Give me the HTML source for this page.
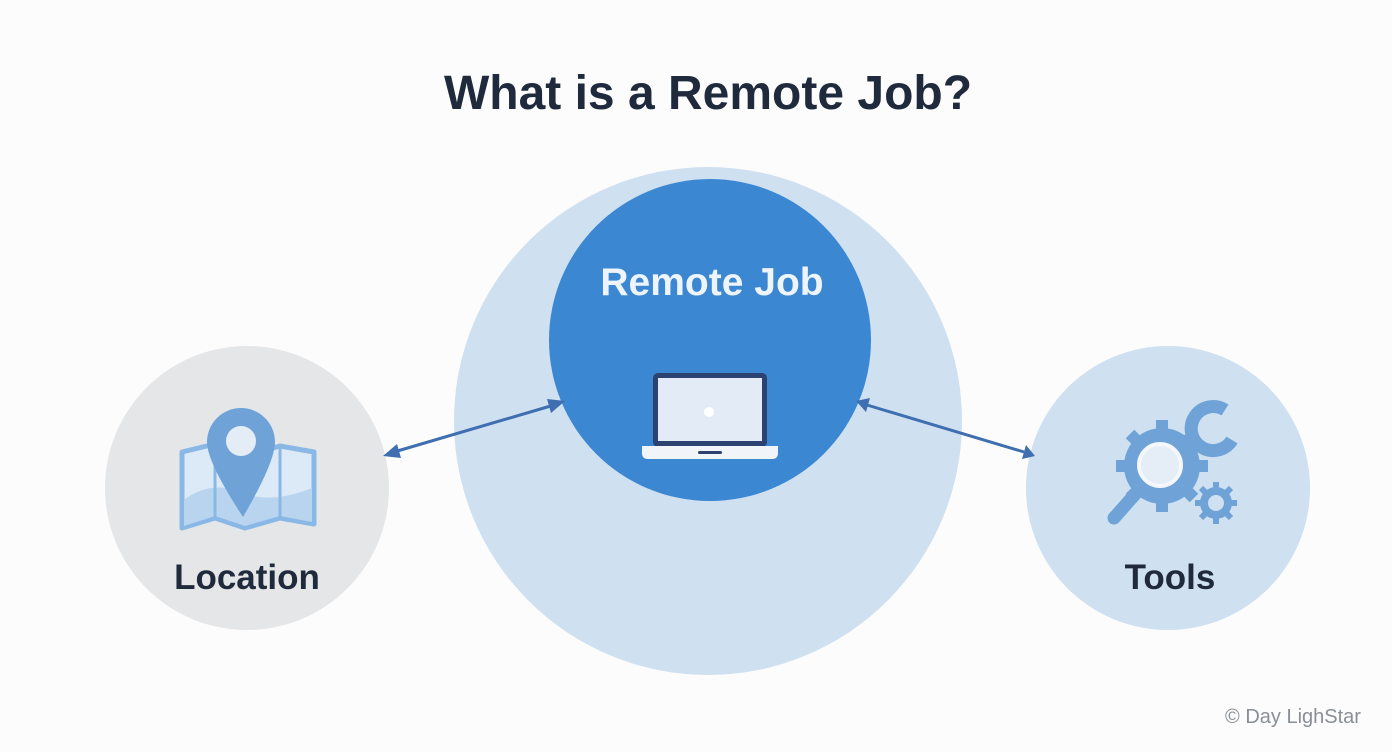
<!DOCTYPE html>
<html><head><meta charset="utf-8"><style>
html,body{margin:0;padding:0;background:#fcfcfc;}
svg{display:block;}
text{font-family:"Liberation Sans",sans-serif;}
</style></head><body>
<svg width="1392" height="752" viewBox="0 0 1392 752" xmlns="http://www.w3.org/2000/svg">
<rect width="1392" height="752" fill="#fcfcfc"/>
<text x="708" y="109" text-anchor="middle" font-size="48" font-weight="bold" fill="#1f2b3d">What is a Remote Job?</text>
<circle cx="708" cy="421" r="254" fill="#cfe0f1"/>
<circle cx="710" cy="340" r="161" fill="#3b87d1"/>
<text x="712" y="295" text-anchor="middle" font-size="39" font-weight="bold" fill="#eef4fb">Remote Job</text>
<!-- laptop -->
<rect x="653" y="373" width="114" height="74" rx="5" fill="#2c4270"/>
<rect x="658" y="378" width="104" height="63" fill="#e3ecf6"/>
<circle cx="709" cy="412" r="5" fill="#fff"/>
<path d="M642 446 H778 V453 Q778 459 772 459 H648 Q642 459 642 453 Z" fill="#f1f5fa"/>
<rect x="698" y="451" width="24" height="3" rx="1.5" fill="#2c4270"/>
<!-- left -->
<circle cx="247" cy="488" r="142" fill="#e4e6e8"/>
<path d="M182 452 L215 444 L245 456 L280 446 L314 452 L314 524 L280 518 L245 528 L215 518 L182 528 Z" fill="#dce9f6" stroke="#8ab8e6" stroke-width="5" stroke-linejoin="round"/>
<path d="M184 500 Q210 480 240 492 Q270 505 312 488 L312 522 L280 516 L245 526 L215 516 L184 526 Z" fill="#b8d4ef"/>
<path d="M215 444 V518 M280 446 V518" stroke="#8ab8e6" stroke-width="3"/>
<path d="M241 408 A34 34 0 0 1 275 442 Q275 462 243 517 Q207 462 207 442 A34 34 0 0 1 241 408 Z" fill="#6fa3d8"/>
<circle cx="241" cy="441" r="15" fill="#e4ecf5"/>
<text x="247" y="589" text-anchor="middle" font-size="35" font-weight="bold" fill="#1f2b3d">Location</text>
<!-- right -->
<circle cx="1168" cy="488" r="142" fill="#cfe0f1"/>
<g fill="#6fa3d8">
<circle cx="1162" cy="466" r="38"/>
<g stroke="#6fa3d8" stroke-width="12">
<line x1="1162" y1="420" x2="1162" y2="512"/><line x1="1116" y1="466" x2="1208" y2="466"/>
<line x1="1130" y1="434" x2="1194" y2="498"/><line x1="1194" y1="434" x2="1130" y2="498"/>
</g>
<circle cx="1216" cy="503" r="16"/>
<g stroke="#6fa3d8" stroke-width="6">
<line x1="1216" y1="482" x2="1216" y2="524"/><line x1="1195" y1="503" x2="1237" y2="503"/>
<line x1="1201" y1="488" x2="1231" y2="518"/><line x1="1231" y1="488" x2="1201" y2="518"/>
</g>
</g>
<circle cx="1216" cy="503" r="8" fill="#cfe0f1"/>
<path d="M1225 410 A22 22 0 1 0 1232 440" fill="none" stroke="#6fa3d8" stroke-width="13"/>
<line x1="1146" y1="482" x2="1114" y2="518" stroke="#6fa3d8" stroke-width="13" stroke-linecap="round"/>
<circle cx="1160" cy="465" r="21" fill="#e5edf6" stroke="#f4f7fb" stroke-width="4"/>
<text x="1170" y="589" text-anchor="middle" font-size="35" font-weight="bold" fill="#1f2b3d">Tools</text>
<!-- arrows -->
<g stroke="#3f6fb0" stroke-width="3" fill="#3f6fb0">
<line x1="394" y1="452" x2="554" y2="405"/>
<line x1="867" y1="405" x2="1024" y2="452"/>
</g>
<g fill="#3f6fb0">
<polygon points="383,456 397,444 401,458"/>
<polygon points="565,401 551,413 547,399"/>
<polygon points="856,401 870,398 866,412"/>
<polygon points="1035,456 1022,459 1026,445"/>
</g>
<text x="1293" y="723" text-anchor="middle" font-size="20" fill="#8a8f96">© Day LighStar</text>
</svg>
</body></html>
